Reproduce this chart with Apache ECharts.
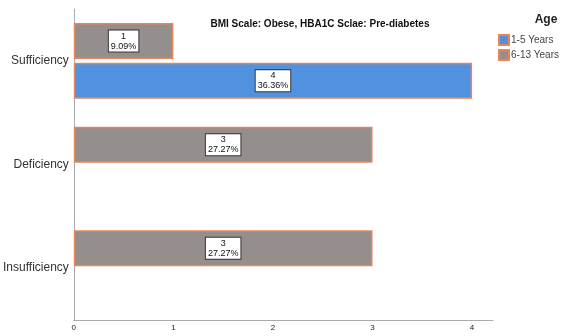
<!DOCTYPE html>
<html><head><meta charset="utf-8">
<script src="https://cdn.jsdelivr.net/npm/echarts@6/dist/echarts.min.js"></script>
<style>html,body{margin:0;padding:0;background:#fff}#c{width:584px;height:336px}</style>
</head><body><div id="c"></div>
<script>
const categories = ['Sufficiency', 'Deficiency', 'Insufficiency'];
const seriesNames = ['1-5 Years', '6-13 Years'];
const young = [4, null, null];
const older = [1, 3, 3];
const xTicks = [0, 1, 2, 3, 4];
const total = 11;
const chartTitle = 'BMI Scale: Obese, HBA1C Sclae: Pre-diabetes';
const legendTitle = 'Age';

const labelCfg = {
  show: true, position: 'inside', color: '#111', fontSize: 9, lineHeight: 10,
  fontFamily: 'Liberation Sans, Arial, sans-serif',
  backgroundColor: '#fff', borderColor: '#333', borderWidth: 1, padding: [1, 2, 0, 2],
  formatter: p => p.value + '\n' + (p.value / total * 100).toFixed(2) + '%'
};
const chart = echarts.init(document.getElementById('c'));
chart.setOption({
  animation: false,
  textStyle: { fontFamily: 'Liberation Sans, Arial, sans-serif' },
  title: [
    { text: chartTitle, left: 315, top: 14, textAlign: 'center',
      textStyle: { fontSize: 10, fontWeight: 'bold', color: '#111' } },
    { text: legendTitle, left: 541, top: 9, textAlign: 'center',
      textStyle: { fontSize: 12, fontWeight: 'bold', color: '#222' } }
  ],
  legend: {
    orient: 'vertical', left: 493, top: 29, itemWidth: 10, itemHeight: 10, itemGap: 3,
    icon: 'rect',
    textStyle: { fontSize: 10, color: '#444', padding: [0, 0, 0, -3] },
    data: seriesNames
  },
  grid: { left: 72, right: 91, top: 9, bottom: 16, containLabel: false },
  xAxis: {
    type: 'value', min: 0, max: 4.21, interval: 1,
    axisLine: { show: true, lineStyle: { color: '#aaa' } },
    axisTick: { show: false }, splitLine: { show: false },
    axisLabel: { fontSize: 8, color: '#222', margin: 4, showMaxLabel: false,
      formatter: v => xTicks.includes(v) ? String(v) : '' }
  },
  yAxis: {
    type: 'category', data: categories, inverse: true,
    axisLine: { show: true, lineStyle: { color: '#aaa' } },
    axisTick: { show: false },
    axisLabel: { fontSize: 12, color: '#333', margin: 5 }
  },
  series: [
    { name: seriesNames[1], type: 'bar', data: older, barWidth: 36, barGap: '10%',
      itemStyle: { color: '#948f8c', borderColor: '#e8845a', borderWidth: 1.5 }, label: labelCfg },
    { name: seriesNames[0], type: 'bar', data: young, barWidth: 36, barGap: '10%',
      itemStyle: { color: '#5092e0', borderColor: '#e8845a', borderWidth: 1.5 }, label: labelCfg }
  ]
});
</script></body></html>
